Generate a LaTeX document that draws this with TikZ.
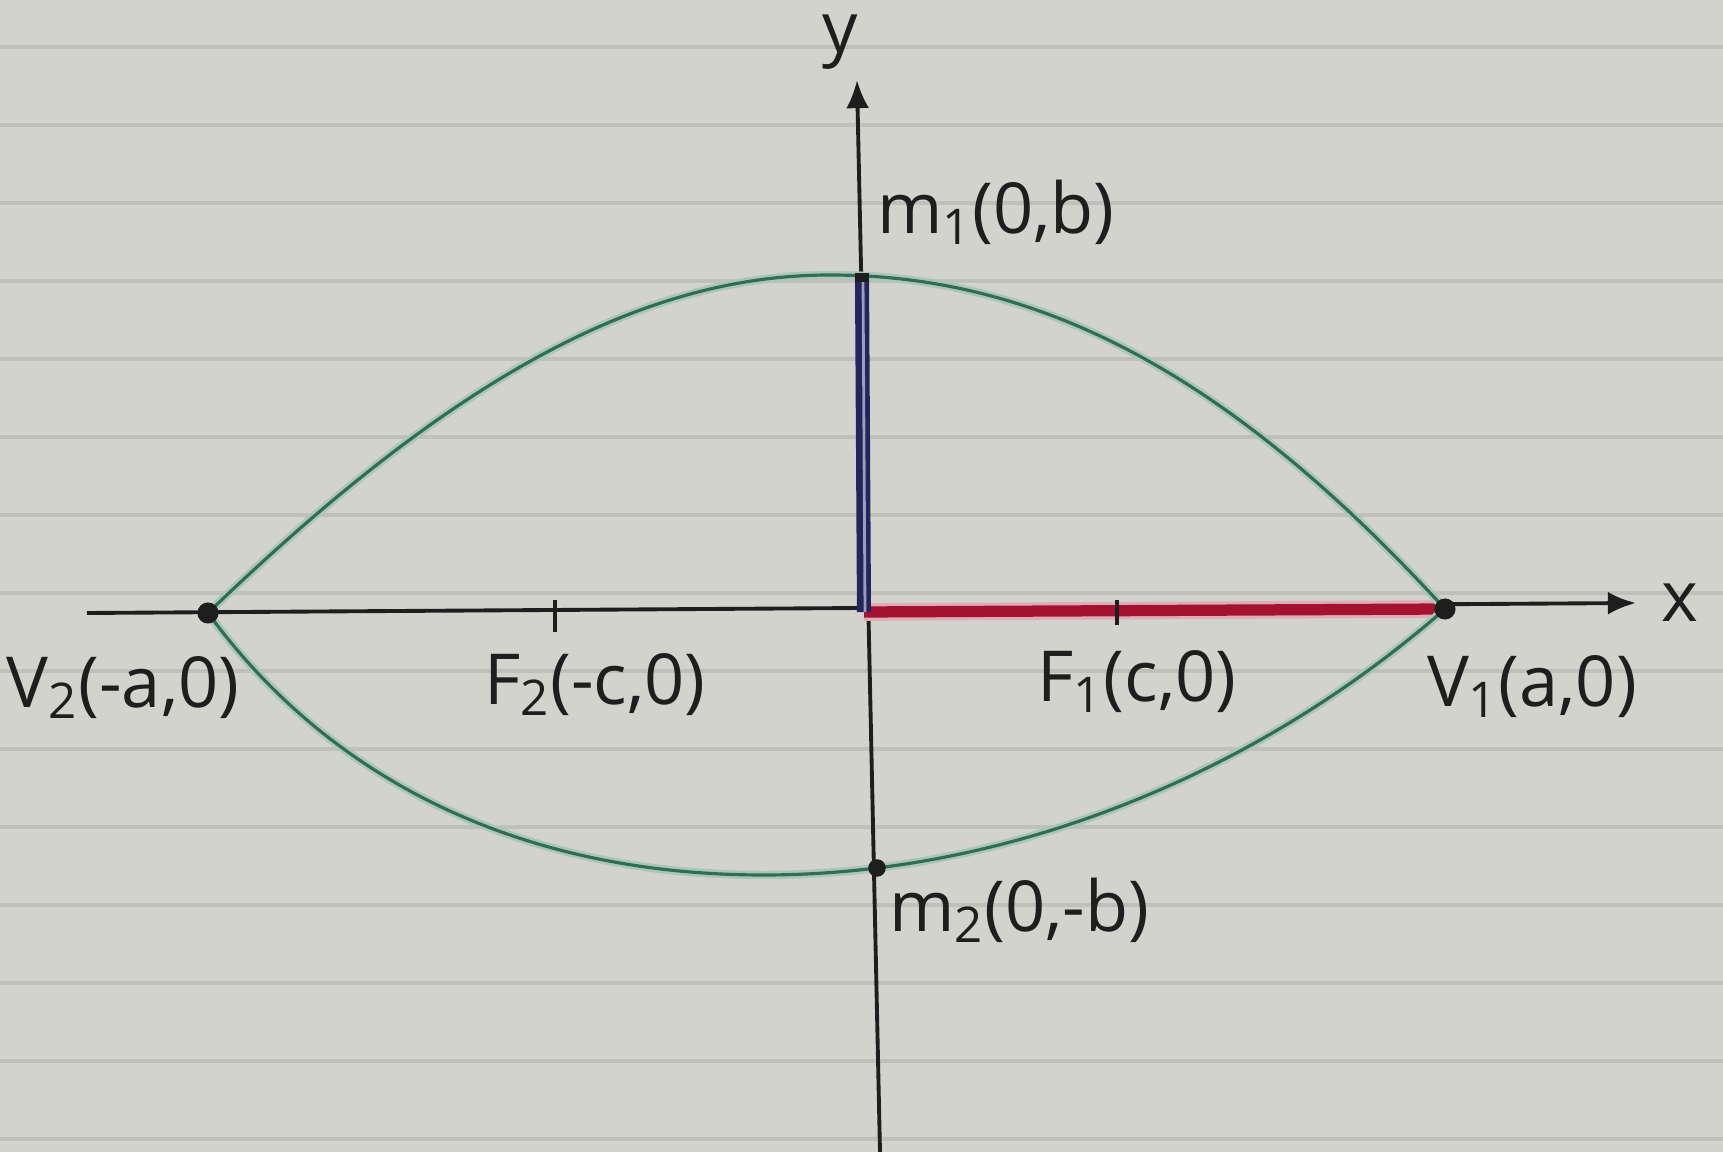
\documentclass[tikz,border=0pt]{standalone}
\usepackage{fontspec}
\setmainfont{Open Sans}
\usepackage{tikz}
\usetikzlibrary{arrows.meta,positioning,calc}

\definecolor{paper}{HTML}{D2D3CD}
\definecolor{rule}{HTML}{BFC0BA}
\definecolor{ink}{HTML}{1E1E1E}
\definecolor{curvegreen}{HTML}{2F6E55}
\definecolor{minorblue}{HTML}{24245E}
\definecolor{majorred}{HTML}{A3132F}

\begin{document}
\begin{tikzpicture}[
  x=0.01cm, y=-0.01cm,
  >={Latex[length=8pt,width=6.5pt]},
  lab/.style={text=ink, font=\fontsize{20}{24}\selectfont, inner sep=1pt},
  axisline/.style={draw=ink, line width=1.1pt},
  dot/.style={circle, fill=ink, inner sep=0pt, minimum size=6pt},
  tick/.style={draw=ink, line width=1.2pt}
]
\useasboundingbox (0,0) rectangle (1723,1152);

% Lined paper
\fill[paper] (0,0) rectangle (1723,1152);
\foreach \y in {47,125,...,1139}{
  \draw[rule, line width=1.1pt] (0,\y) -- (1723,\y);
}

% Key points
\coordinate (O) at (864,612);
\coordinate (V1) at (1445,609);
\coordinate (V2) at (208,613);
\coordinate (M1) at (862,277);
\coordinate (M2) at (877,868);
\coordinate (F1) at (1117,609);
\coordinate (F2) at (555,612);
\coordinate (xend) at (1636,603);
\coordinate (xstart) at (87,613);
\coordinate (yend) at (857,80);
\coordinate (ystart) at (880,1152);

% Axes
\draw[axisline, ->] (xstart) -- (xend);
\draw[axisline, ->] (ystart) -- (yend);
\node[lab] (xlab) at (1680,603) {x};
\node[lab] (ylab) at (840,42) {y};

% Semi-axes
\draw[majorred!35, line width=5pt] (O) -- (V1);
\draw[majorred, line width=3.2pt] (O) -- (V1);
\draw[minorblue, line width=4pt] (O) -- (M1);
\draw[minorblue!45, line width=0.8pt] ($(O)+(1,0)$) -- ($(M1)+(1,0)$);

% Ellipse (hand drawn)
\foreach \col/\wd in {curvegreen!40/2.4pt, curvegreen/0.9pt}{
  \draw[\col, line width=\wd] (V2) .. controls (450,380) and (640,275) .. (830,275)
    .. controls (1050,275) and (1240,385) .. (V1);
  \draw[\col, line width=\wd] (V2) .. controls (330,780) and (520,874) .. (760,875)
    .. controls (1000,876) and (1250,780) .. (V1);
}

% Foci ticks
\draw[tick] ($(F1)+(0,-9)$) -- ($(F1)+(0,16)$);
\draw[tick] ($(F2)+(0,-12)$) -- ($(F2)+(0,20)$);

% Vertices and co-vertices
\node[dot] (v1dot) at (V1) {};
\node[dot] (v2dot) at (V2) {};
\node[dot, minimum size=5pt] (m2dot) at (M2) {};
\fill[ink] ($(M1)+(-7,-4)$) rectangle ($(M1)+(7,5)$);

% Labels
\node[lab] (v2lab) at (123,688) {V\textsubscript{2}(-a,0)};
\node[lab] (f2lab) at (595,685) {F\textsubscript{2}(-c,0)};
\node[lab] (f1lab) at (1137,682) {F\textsubscript{1}(c,0)};
\node[lab] (v1lab) at (1532,687) {V\textsubscript{1}(a,0)};
\node[lab, anchor=west] (m1lab) at (873,212) {m\textsubscript{1}(0,b)};
\node[lab, anchor=west] (m2lab) at (885,910) {m\textsubscript{2}(0,-b)};
\end{tikzpicture}
\end{document}
